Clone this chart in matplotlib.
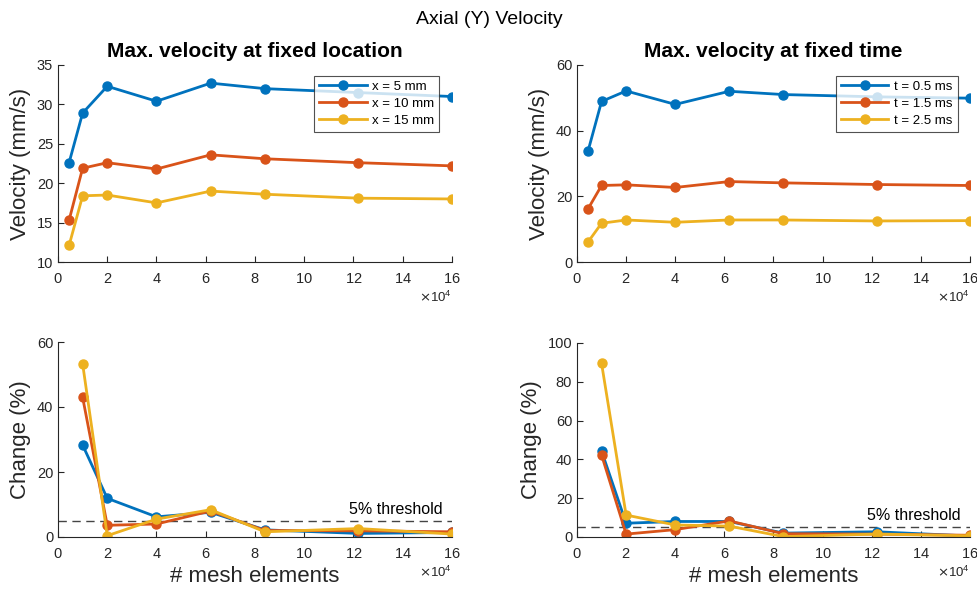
import numpy as np
import matplotlib
matplotlib.use("Agg")
import matplotlib.pyplot as plt
from matplotlib.ticker import ScalarFormatter

plt.rcParams['font.family'] = ['Liberation Sans', 'DejaVu Sans']

# mesh sizes
mesh = [4500, 10000, 20000, 40000, 62000, 84000, 122000, 160000]

# max velocity at fixed location (mm/s)
loc_labels = ['x = 5 mm', 'x = 10 mm', 'x = 15 mm']
loc_x5 = [22.6, 28.9, 32.3, 30.4, 32.7, 32.0, 31.5, 31.0]
loc_x10 = [15.3, 21.9, 22.6, 21.8, 23.6, 23.1, 22.6, 22.2]
loc_x15 = [12.1, 18.4, 18.5, 17.5, 19.0, 18.6, 18.1, 18.0]

# max velocity at fixed time (mm/s)
time_labels = ['t = 0.5 ms', 't = 1.5 ms', 't = 2.5 ms']
time_t05 = [33.8, 48.9, 52.1, 48.0, 52.0, 51.0, 50.3, 49.9]
time_t15 = [16.2, 23.3, 23.5, 22.7, 24.5, 24.1, 23.6, 23.3]
time_t25 = [6.1, 11.8, 12.8, 12.1, 12.8, 12.8, 12.5, 12.6]

# change between successive meshes (%)
chg_x5 = [28.3, 11.9, 6.2, 7.6, 2.2, 1.1, 1.4]
chg_x10 = [43.0, 3.6, 4.0, 8.0, 2.0, 1.9, 1.6]
chg_x15 = [53.3, 0.4, 5.5, 8.4, 1.6, 2.6, 0.9]

chg_t05 = [44.3, 7.1, 8.0, 8.0, 2.0, 2.7, 0.5]
chg_t15 = [42.3, 1.5, 3.8, 8.3, 1.7, 1.5, 0.9]
chg_t25 = [89.5, 11.3, 6.2, 5.6, 0.2, 1.5, 0.6]

threshold = 5

colors = ['#0072BD', '#D95319', '#EDB120']
axcol = '#262626'

fig = plt.figure(figsize=(9.78, 5.92), dpi=100)
W, H = 978, 592


def make_ax(l, r, t, b):
    return fig.add_axes([l / W, 1 - b / H, (r - l) / W, (b - t) / H])


def style(ax, ylim, yticks):
    ax.set_xlim(0, 160000)
    ax.set_xticks(np.arange(0, 160001, 20000))
    ax.set_ylim(*ylim)
    ax.set_yticks(yticks)
    fmt = ScalarFormatter(useMathText=True)
    fmt.set_powerlimits((4, 4))  # force x10^4
    ax.xaxis.set_major_formatter(fmt)
    ax.xaxis.get_offset_text().set_fontsize(9.5)
    ax.xaxis.get_offset_text().set_color(axcol)
    for s in ['top', 'right']:
        ax.spines[s].set_visible(False)
    for s in ['left', 'bottom']:
        ax.spines[s].set_color(axcol)
        ax.spines[s].set_linewidth(0.8)
    ax.tick_params(direction='in', labelsize=10.5, colors=axcol, length=4, width=0.8)
    ax.tick_params(axis='x', pad=7)


def lines(ax, xs, series, labels=None):
    for i, ys in enumerate(series):
        lab = labels[i] if labels else None
        ax.plot(xs, ys, '-o', color=colors[i], lw=2, ms=6.5, label=lab)


ax1 = make_ax(58, 452, 65, 262)
ax2 = make_ax(577, 970, 65, 262)
ax3 = make_ax(58, 452, 342, 537)
ax4 = make_ax(577, 970, 343, 537)

lines(ax1, mesh, [loc_x5, loc_x10, loc_x15], loc_labels)
style(ax1, (10, 35), range(10, 36, 5))
ax1.set_title('Max. velocity at fixed location', fontsize=15, fontweight='bold', pad=6)
ax1.set_ylabel('Velocity (mm/s)', fontsize=16, color=axcol)

lines(ax2, mesh, [time_t05, time_t15, time_t25], time_labels)
style(ax2, (0, 60), range(0, 61, 20))
ax2.set_title('Max. velocity at fixed time', fontsize=15, fontweight='bold', pad=6)
ax2.set_ylabel('Velocity (mm/s)', fontsize=16, color=axcol)

for ax in (ax1, ax2):
    leg = ax.legend(loc='upper right', fontsize=9.5, handlelength=3.6, handletextpad=0.4,
                    frameon=True, fancybox=False, borderaxespad=0.5, labelspacing=0.35,
                    bbox_to_anchor=(0.985, 0.98))
    leg.get_frame().set_edgecolor(axcol)
    leg.get_frame().set_linewidth(0.8)

lines(ax3, mesh[1:], [chg_x5, chg_x10, chg_x15])
style(ax3, (0, 60), range(0, 61, 20))
lines(ax4, mesh[1:], [chg_t05, chg_t15, chg_t25])
style(ax4, (0, 100), range(0, 101, 20))

for ax in (ax3, ax4):
    ax.axhline(threshold, color='#444444', ls='--', lw=1, dashes=(6, 4), zorder=1)
    ax.annotate('5% threshold', xy=(118000, threshold), xytext=(0, 3),
                textcoords='offset points', va='bottom', ha='left', fontsize=11.5)
    ax.set_ylabel('Change (%)', fontsize=16, color=axcol)
    ax.set_xlabel('# mesh elements', fontsize=16, color=axcol, labelpad=4)

fig.suptitle('Axial (Y) Velocity', fontsize=14, y=0.967, va='center')

fig.savefig('out.png', dpi=100)
